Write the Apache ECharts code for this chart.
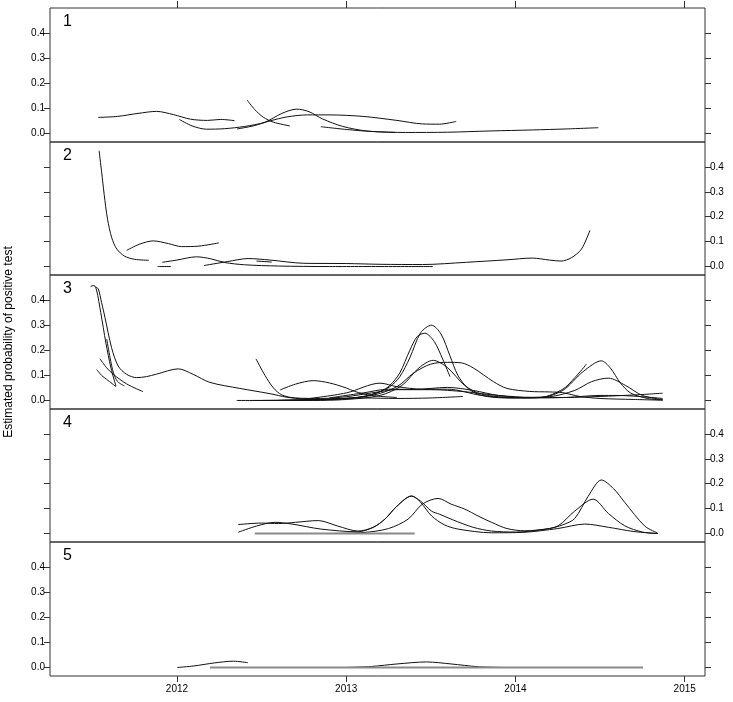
<!DOCTYPE html>
<html>
<head>
<meta charset="utf-8">
<script src="https://cdn.jsdelivr.net/npm/echarts@6/dist/echarts.min.js"></script>
<style>html,body{margin:0;padding:0;background:#fff}#chart{width:733px;height:702px}</style>
</head>
<body>
<div id="chart"></div>
<script>
// ---- data (x in decimal years, y = estimated probability) ----
const X_TICKS = [2012, 2013, 2014, 2015];
const Y_TICKS = [0, 0.1, 0.2, 0.3, 0.4];
const PANEL_LABELS = ['1', '2', '3', '4', '5'];
const Y_TITLE = 'Estimated probability of positive test';

const panel1 = [
  [[2011.535,0.064],[2011.65,0.068],[2011.77,0.08],[2011.88,0.088],[2011.98,0.075],[2012.08,0.057],[2012.18,0.052],[2012.26,0.056],[2012.34,0.051]],
  [[2012.014,0.056],[2012.09,0.03],[2012.175,0.017],[2012.28,0.019],[2012.4,0.028],[2012.52,0.045],[2012.62,0.08],[2012.707,0.097],[2012.78,0.087],[2012.86,0.058],[2012.98,0.028],[2013.12,0.01],[2013.29,0.004]],
  [[2012.415,0.133],[2012.46,0.095],[2012.51,0.065],[2012.57,0.045],[2012.667,0.03]],
  [[2012.355,0.018],[2012.45,0.03],[2012.55,0.05],[2012.65,0.066],[2012.77,0.074],[2012.9,0.074],[2013.1,0.068],[2013.3,0.052],[2013.45,0.038],[2013.55,0.037],[2013.65,0.048]],
  [[2012.85,0.027],[2013.0,0.016],[2013.15,0.008],[2013.35,0.004],[2013.6,0.005],[2013.85,0.01],[2014.1,0.014],[2014.3,0.018],[2014.49,0.023]]
];
const panel2 = [
  [[2011.54,0.465],[2011.555,0.38],[2011.57,0.29],[2011.59,0.19],[2011.615,0.115],[2011.645,0.07],[2011.69,0.042],[2011.75,0.029],[2011.835,0.025]],
  [[2011.703,0.065],[2011.78,0.09],[2011.86,0.103],[2011.95,0.092],[2012.028,0.08],[2012.13,0.082],[2012.248,0.095]],
  [[2011.886,0.0],[2011.965,0.0]],
  [[2011.913,0.017],[2012.0,0.026],[2012.116,0.039],[2012.2,0.031],[2012.283,0.016],[2012.4,0.007],[2012.6,0.002],[2012.9,0.0],[2013.512,0.0]],
  [[2012.16,0.004],[2012.3,0.02],[2012.42,0.032],[2012.55,0.026],[2012.75,0.013],[2013.0,0.012],[2013.2,0.009],[2013.45,0.008],[2013.71,0.017],[2013.95,0.027],[2014.1,0.034],[2014.2,0.026],[2014.27,0.022],[2014.33,0.035],[2014.39,0.07],[2014.44,0.145]],
  [[2012.47,0.022],[2012.56,0.018]]
];
const panel3 = [
  [[2011.49,0.455],[2011.51,0.458],[2011.525,0.44],[2011.55,0.35],[2011.58,0.23],[2011.61,0.13],[2011.64,0.057]],
  [[2011.52,0.452],[2011.535,0.445],[2011.555,0.39],[2011.575,0.33],[2011.614,0.21],[2011.653,0.137],[2011.703,0.104],[2011.762,0.091],[2011.82,0.095],[2011.88,0.105],[2012.008,0.126],[2012.096,0.104],[2012.195,0.072],[2012.372,0.048],[2012.55,0.027],[2012.648,0.013],[2012.75,0.006],[2012.85,0.004]],
  [[2011.585,0.245],[2011.605,0.17],[2011.625,0.11],[2011.65,0.075],[2011.69,0.058]],
  [[2011.545,0.166],[2011.585,0.13],[2011.624,0.104],[2011.703,0.066],[2011.8,0.035]],
  [[2011.526,0.123],[2011.555,0.1],[2011.585,0.084],[2011.64,0.055]],
  [[2012.467,0.166],[2012.52,0.1],[2012.57,0.05],[2012.62,0.022],[2012.7,0.01],[2012.85,0.008],[2013.0,0.015],[2013.15,0.03],[2013.3,0.043],[2013.5,0.043],[2013.7,0.035],[2013.9,0.02],[2014.1,0.012],[2014.3,0.012],[2014.5,0.016],[2014.7,0.022],[2014.87,0.029]],
  [[2012.61,0.042],[2012.7,0.065],[2012.805,0.079],[2012.9,0.07],[2013.0,0.05],[2013.05,0.036],[2013.15,0.02],[2013.3,0.012]],
  [[2012.45,0.0],[2012.8,0.002],[2013.05,0.01],[2013.18,0.03],[2013.258,0.055],[2013.317,0.095],[2013.376,0.17],[2013.44,0.27],[2013.504,0.30],[2013.56,0.265],[2013.613,0.178],[2013.66,0.1],[2013.72,0.048],[2013.8,0.02],[2013.95,0.01],[2014.15,0.012],[2014.28,0.04],[2014.4,0.115],[2014.508,0.158],[2014.56,0.13],[2014.62,0.07],[2014.68,0.03],[2014.78,0.008],[2014.87,0.002]],
  [[2012.6,0.0],[2012.9,0.004],[2013.1,0.015],[2013.2,0.035],[2013.258,0.06],[2013.317,0.11],[2013.376,0.2],[2013.42,0.255],[2013.465,0.268],[2013.52,0.235],[2013.57,0.165],[2013.613,0.095]],
  [[2012.353,0.0],[2012.8,0.0],[2013.0,0.004],[2013.2,0.02],[2013.33,0.06],[2013.43,0.13],[2013.514,0.16],[2013.6,0.13],[2013.7,0.06],[2013.8,0.025],[2014.0,0.012],[2014.2,0.015],[2014.35,0.04],[2014.45,0.075],[2014.548,0.089],[2014.65,0.06],[2014.75,0.02],[2014.87,0.003]],
  [[2012.5,0.0],[2012.9,0.005],[2013.15,0.02],[2013.3,0.055],[2013.4,0.11],[2013.5,0.145],[2013.6,0.152],[2013.68,0.15],[2013.75,0.13],[2013.87,0.075],[2013.95,0.048],[2014.085,0.036],[2014.2,0.034],[2014.28,0.031],[2014.38,0.016],[2014.5,0.008],[2014.7,0.004],[2014.87,0.001]],
  [[2012.75,0.005],[2013.0,0.03],[2013.2,0.069],[2013.3,0.055],[2013.45,0.045],[2013.6,0.045],[2013.8,0.02],[2014.0,0.01],[2014.15,0.012],[2014.28,0.045],[2014.35,0.09],[2014.42,0.145]],
  [[2012.6,0.0],[2012.9,0.006],[2013.1,0.01],[2013.3,0.008],[2013.5,0.01],[2013.69,0.016]],
  [[2012.9,0.01],[2013.1,0.03],[2013.25,0.045],[2013.4,0.044],[2013.6,0.052],[2013.75,0.04],[2013.9,0.02],[2014.1,0.01],[2014.3,0.012],[2014.5,0.02],[2014.6,0.02],[2014.87,0.008]]
];
const panel4 = [
  [[2012.362,0.005],[2012.47,0.03],[2012.58,0.045],[2012.68,0.038],[2012.85,0.018],[2013.07,0.007],[2013.16,0.025],[2013.229,0.058],[2013.3,0.11],[2013.386,0.151],[2013.44,0.125],[2013.504,0.071],[2013.58,0.035],[2013.66,0.018],[2013.86,0.003],[2014.05,0.005],[2014.25,0.02],[2014.41,0.038],[2014.55,0.025],[2014.7,0.008],[2014.84,0.0]],
  [[2012.362,0.036],[2012.5,0.042],[2012.6,0.04],[2012.7,0.045],[2012.835,0.052],[2012.95,0.03],[2013.07,0.01],[2013.16,0.025],[2013.229,0.058],[2013.3,0.11],[2013.386,0.15],[2013.44,0.13],[2013.504,0.09],[2013.55,0.078],[2013.63,0.055],[2013.75,0.025],[2013.859,0.01],[2014.0,0.006],[2014.15,0.015],[2014.252,0.031],[2014.35,0.09],[2014.459,0.138],[2014.55,0.08],[2014.646,0.031],[2014.75,0.006],[2014.84,0.0]],
  [[2012.85,0.0],[2013.1,0.004],[2013.25,0.02],[2013.366,0.058],[2013.45,0.118],[2013.543,0.141],[2013.62,0.118],[2013.701,0.098],[2013.78,0.07],[2013.859,0.045],[2013.95,0.02],[2014.055,0.011],[2014.2,0.02],[2014.28,0.035],[2014.35,0.06],[2014.43,0.15],[2014.508,0.215],[2014.58,0.18],[2014.646,0.125],[2014.764,0.03],[2014.84,0.002]]
];
const panel4Flat = [[[2012.46,0.0],[2013.405,0.0]]];
const panel5 = [
  [[2012.002,0.0],[2012.1,0.006],[2012.22,0.018],[2012.334,0.025],[2012.42,0.019]],
  [[2013.002,0.0],[2013.15,0.004],[2013.3,0.014],[2013.475,0.022],[2013.62,0.014],[2013.78,0.003],[2013.93,0.0]]
];
const panel5Flat = [[[2012.195,0.0],[2014.754,0.0]]];

const PANELS = [
  {curves: panel1, flat: []},
  {curves: panel2, flat: []},
  {curves: panel3, flat: []},
  {curves: panel4, flat: panel4Flat},
  {curves: panel5, flat: panel5Flat}
];

// ---- layout ----
const TOPS = [8, 142, 275, 409, 542, 676];
const FONT = 'Liberation Sans, Arial, Helvetica, sans-serif';
const X_MIN = 2011.25, X_MAX = 2015.12;
const Y_MIN = -0.034, Y_MAX = 0.5;

const grid = [], xAxis = [], yAxis = [], series = [], graphic = [];
for (let k = 0; k < 5; k++) {
  grid.push({
    left: 50, right: 28, top: TOPS[k], height: TOPS[k+1] - TOPS[k],
    show: true, borderColor: '#333', borderWidth: 1, backgroundColor: 'transparent',
    containLabel: false, outerBoundsMode: 'none'
  });
  const isBottom = k === 4;
  xAxis.push({
    type: 'value', gridIndex: k, min: X_MIN, max: X_MAX, position: 'bottom',
    axisLine: {show: false, onZero: false}, splitLine: {show: false},
    axisTick: {show: isBottom, customValues: X_TICKS, length: 6, lineStyle: {color: '#333'}},
    axisLabel: {show: isBottom, customValues: X_TICKS, color: '#000', fontSize: 10, fontFamily: FONT, margin: 8,
      formatter: v => String(Math.round(v))}
  });
  const labelLeft = (k % 2 === 0);
  ['left', 'right'].forEach(pos => {
    const showLabel = (pos === 'left') === labelLeft;
    yAxis.push({
      type: 'value', gridIndex: k, min: Y_MIN, max: Y_MAX, position: pos,
      axisLine: {show: false, onZero: false}, splitLine: {show: false},
      axisTick: {show: true, customValues: Y_TICKS, length: 6, lineStyle: {color: '#333'}},
      axisLabel: {show: showLabel, customValues: Y_TICKS, color: '#000', fontSize: 10, fontFamily: FONT, margin: 5,
        formatter: v => Number(v).toFixed(1)}
    });
  });
  PANELS[k].curves.forEach(c => series.push({
    type: 'line', xAxisIndex: k, yAxisIndex: 2*k, data: c, showSymbol: false, symbol: 'none',
    smooth: 0.3, silent: true,
    lineStyle: {color: '#111', width: 1}
  }));
  PANELS[k].flat.forEach(c => series.push({
    type: 'line', xAxisIndex: k, yAxisIndex: 2*k, data: c, showSymbol: false, symbol: 'none',
    silent: true, lineStyle: {color: '#8a8a8a', width: 2}
  }));
  graphic.push({
    type: 'text', left: 63, top: TOPS[k] + 6,
    style: {text: PANEL_LABELS[k], font: '16px ' + FONT, fill: '#000'}
  });
}
// top axis of first panel (ticks only)
xAxis.push({
  type: 'value', gridIndex: 0, min: X_MIN, max: X_MAX, position: 'top',
  axisLine: {show: false, onZero: false}, splitLine: {show: false},
  axisTick: {show: true, customValues: X_TICKS, length: 7, lineStyle: {color: '#333'}},
  axisLabel: {show: false}
});
graphic.push({
  type: 'text', x: 9, y: 342, rotation: Math.PI / 2,
  style: {text: Y_TITLE, font: '12px ' + FONT, fill: '#000', align: 'center', verticalAlign: 'middle'}
});

const chart = echarts.init(document.getElementById('chart'), null, {renderer: 'canvas'});
chart.setOption({
  animation: false,
  grid, xAxis, yAxis, series, graphic
});
</script>
</body>
</html>
